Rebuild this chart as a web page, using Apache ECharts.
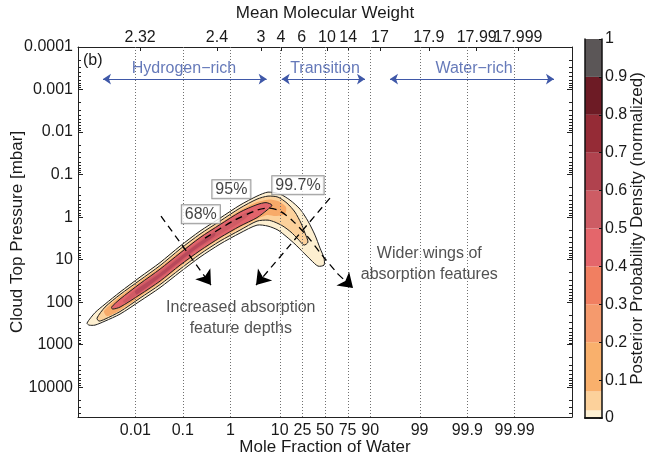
<!DOCTYPE html>
<html>
<head>
<meta charset="utf-8">
<script src="https://cdn.jsdelivr.net/npm/echarts@6/dist/echarts.min.js"></script>
<style>
html,body{margin:0;padding:0;background:#fff;}
#chart{width:645px;height:458px;}
</style>
</head>
<body>
<div id="chart"></div>
<script>
const FONT = '"Liberation Sans", Arial, Helvetica, sans-serif';

// Bottom axis: mole fraction of water (percent)
const waterTicks = [0.01, 0.1, 1, 10, 25, 50, 75, 90, 99, 99.9, 99.99];
const waterTickLabels = ['0.01', '0.1', '1', '10', '25', '50', '75', '90', '99', '99.9', '99.99'];

// Top axis: mean molecular weight, placed on the log-odds scale of water
const mmwLabels = ['2.32', '2.4', '3', '4', '6', '10', '14', '17', '17.9', '17.99', '17.999'];
const mmwPos = [-3.90, -2.28, -1.35, -0.93, -0.49, 0.04, 0.49, 1.16, 2.19, 3.20, 4.07];

// Left axis: cloud top pressure, log10(mbar)
const pressureTicks = [-4, -3, -2, -1, 0, 1, 2, 3, 4];
const pressureLabels = ['0.0001', '0.001', '0.01', '0.1', '1', '10', '100', '1000', '10000'];

// Colour bar levels and fills
const cbLevels = [0, 0.02, 0.07, 0.2, 0.3, 0.4, 0.5, 0.6, 0.7, 0.8, 0.9, 1];
const cbColors = ['#fdf0d3', '#fcd19b', '#f9b06c', '#f59a6d', '#f17f61', '#e4666b',
                  '#cd5c64', '#b0424e', '#952b36', '#6d1b25', '#5b5657'];
const cbTicks = [0, 0.1, 0.2, 0.3, 0.4, 0.5, 0.6, 0.7, 0.8, 0.9, 1];
const cbLabels = ['0', '0.1', '0.2', '0.3', '0.4', '0.5', '0.6', '0.7', '0.8', '0.9', '1'];

// Posterior contours: [log10 odds of water, log10 pressure (mbar)]
const contour997 = [
  [-5.020, 2.492], [-4.851, 2.246], [-4.640, 2.046], [-4.324, 1.763], [-3.902, 1.411],
  [-3.480, 1.070], [-3.058, 0.682], [-2.637, 0.329], [-2.215, 0.024], [-1.793, -0.282],
  [-1.434, -0.494], [-1.202, -0.588], [-0.949, -0.541], [-0.738, -0.400], [-0.527, -0.188],
  [-0.359, 0.094], [-0.211, 0.423], [-0.105, 0.729], [-0.021, 0.964], [-0.021, 1.129],
  [-0.148, 1.152], [-0.295, 1.011], [-0.464, 0.823], [-0.633, 0.635], [-0.802, 0.470],
  [-0.991, 0.306], [-1.202, 0.212], [-1.434, 0.188], [-1.793, 0.376], [-2.215, 0.635],
  [-2.637, 0.941], [-3.058, 1.293], [-3.480, 1.658], [-3.902, 1.975], [-4.324, 2.281],
  [-4.640, 2.445], [-4.851, 2.539], [-4.978, 2.539]
];
const contour95 = [
  [-4.809, 2.375], [-4.640, 2.116], [-4.324, 1.822], [-3.902, 1.481], [-3.480, 1.140],
  [-3.058, 0.752], [-2.637, 0.400], [-2.215, 0.094], [-1.793, -0.212], [-1.434, -0.423],
  [-1.202, -0.494], [-0.991, -0.470], [-0.802, -0.329], [-0.633, -0.118], [-0.506, 0.141],
  [-0.422, 0.376], [-0.359, 0.588], [-0.443, 0.658], [-0.569, 0.517], [-0.717, 0.353],
  [-0.886, 0.212], [-1.055, 0.118], [-1.202, 0.071], [-1.434, 0.094], [-1.793, 0.306],
  [-2.215, 0.564], [-2.637, 0.870], [-3.058, 1.223], [-3.480, 1.587], [-3.902, 1.905],
  [-4.324, 2.222], [-4.640, 2.398], [-4.767, 2.445]
];
const bandOrange = [
  [-4.661, 2.210], [-4.324, 1.869], [-3.902, 1.517], [-3.480, 1.187], [-3.058, 0.811],
  [-2.637, 0.459], [-2.215, 0.153], [-1.793, -0.153], [-1.434, -0.353], [-1.202, -0.411],
  [-0.991, -0.376], [-0.823, -0.235], [-0.844, -0.071], [-1.034, -0.024], [-1.223, -0.047],
  [-1.434, 0.047], [-1.793, 0.247], [-2.215, 0.506], [-2.637, 0.811], [-3.058, 1.164],
  [-3.480, 1.540], [-3.902, 1.869], [-4.324, 2.187], [-4.598, 2.328]
];
const contour68 = [
  [-4.502, 2.116], [-4.324, 1.928], [-3.902, 1.564], [-3.480, 1.223], [-3.058, 0.846],
  [-2.637, 0.482], [-2.215, 0.176], [-1.793, -0.118], [-1.434, -0.294], [-1.244, -0.341],
  [-1.118, -0.282], [-1.223, -0.165], [-1.434, 0.012], [-1.793, 0.212], [-2.215, 0.482],
  [-2.637, 0.788], [-3.058, 1.129], [-3.480, 1.505], [-3.902, 1.822], [-4.324, 2.116],
  [-4.481, 2.163]
];
const bandCore = [
  [-4.261, 1.975], [-3.902, 1.611], [-3.480, 1.281], [-3.058, 0.905], [-2.637, 0.553],
  [-2.215, 0.247], [-1.793, -0.035], [-1.519, -0.165], [-1.582, -0.059], [-1.793, 0.129],
  [-2.215, 0.411], [-2.637, 0.717], [-3.058, 1.070], [-3.480, 1.446], [-3.902, 1.775],
  [-4.219, 2.022]
];
const bandPeak = [
  [-4.008, 1.740], [-3.480, 1.317], [-3.058, 0.941], [-2.637, 0.588], [-2.320, 0.364],
  [-2.320, 0.435], [-2.637, 0.682], [-3.058, 1.035], [-3.480, 1.411], [-3.966, 1.822]
];

// Annotation arrows and labels (same units as the contours)
const ridgePath = [
  [-2.531, 0.494], [-1.941, 0.094], [-1.434, -0.165], [-1.202, -0.212], [-0.949, -0.141],
  [-0.675, 0.094], [-0.359, 0.470], [-0.063, 0.893], [0.274, 1.340]
];
const ridgeHead = [[0.274, 1.340], [0.591, 1.669]];
const depthArrows = [
  [[-3.459, -0.024], [-2.405, 1.599]],
  [[0.105, -0.447], [-1.455, 1.599]]
];
const regionArrows = [
  [[-4.683, -3.245], [-1.230, -3.245]],
  [[-0.913, -3.245], [0.844, -3.245]],
  [[1.371, -3.245], [4.830, -3.245]]
];
const regionLabels = [[-2.974, -3.496, 'Hydrogen\u2212rich'], [0.0, -3.496, 'Transition'], [3.143, -3.496, 'Water\u2212rich']];
const levelLabels = [[-2.619, -0.070, '68%'], [-1.975, -0.658, '95%'], [-0.570, -0.752, '99.7%']];
const noteLabels = [
  [-1.776, 2.375, 'Increased absorption\nfeature depths'],
  [2.200, 1.116, 'Wider wings of\nabsorption features']
];

const logit = p => Math.log10(p / (100 - p));
const nearest = (arr, v) => {
  let best = 0;
  arr.forEach((a, i) => { if (Math.abs(a - v) < Math.abs(arr[best] - v)) best = i; });
  return best;
};
const waterPos = waterTicks.map(logit);

const minorPressure = [];
for (let k = -4; k <= 4; k++) {
  for (let m = 2; m <= 9; m++) {
    const v = k + Math.log10(m);
    if (v < 4.7) minorPressure.push(v);
  }
}

const AX = '#222';
const TXT = '#1a1a1a';
const NAME_STYLE = { fontSize: 17, color: TXT, fontFamily: FONT };

function polygon(name, pts, fill, stroke, z) {
  return {
    type: 'custom', name, xAxisIndex: 0, yAxisIndex: 0, z, silent: true,
    data: [[0, 0]],
    renderItem: (params, api) => ({
      type: 'polygon',
      shape: { points: pts.map(p => api.coord(p)), smooth: 0.25 },
      style: { fill, stroke: stroke || 'none', lineWidth: stroke ? 1 : 0 }
    })
  };
}

function pressureAxis(position, major, labels) {
  return {
    gridIndex: 0, type: 'value', position, min: -4, max: 4.7, inverse: true,
    axisLine: { show: major, onZero: false, lineStyle: { color: AX, width: 1 } },
    axisTick: { show: true, inside: true, length: major ? 5 : 3,
                customValues: major ? pressureTicks : minorPressure,
                lineStyle: { color: AX, width: 1 } },
    axisLabel: labels ? {
      show: true, customValues: pressureTicks, margin: 5, fontSize: 16, color: TXT, fontFamily: FONT,
      showMinLabel: true, showMaxLabel: true, hideOverlap: false,
      formatter: v => pressureLabels[nearest(pressureTicks, v)]
    } : { show: false },
    splitLine: { show: false },
    name: labels ? 'Cloud Top Pressure [mbar]' : '',
    nameLocation: 'middle', nameGap: 52, nameRotate: 90, nameMoveOverlap: false,
    nameTextStyle: NAME_STYLE
  };
}

// top axis labels; the last one sits on its own axis so the two crowded
// labels at the right end are both kept
function mmwAxis(from, to, withLine) {
  const pos = mmwPos.slice(from, to);
  return {
    gridIndex: 0, type: 'value', position: 'top', min: -5.21, max: 5.21,
    axisLine: { show: withLine, onZero: false, lineStyle: { color: AX, width: 1 } },
    axisTick: { show: true, inside: true, length: 4, customValues: pos, lineStyle: { color: AX } },
    splitLine: { show: false },
    axisLabel: { customValues: pos, margin: 1, fontSize: 16, color: TXT, fontFamily: FONT,
                 showMinLabel: true, showMaxLabel: true, hideOverlap: false,
                 formatter: v => mmwLabels[nearest(mmwPos, v)] },
    name: withLine ? 'Mean Molecular Weight' : '', nameLocation: 'middle', nameGap: 25,
    nameMoveOverlap: false, nameTextStyle: NAME_STYLE
  };
}

const series = [
  {
    type: 'line', xAxisIndex: 0, yAxisIndex: 0, data: [], z: 1, silent: true,
    markLine: {
      silent: true, symbol: ['none', 'none'], label: { show: false },
      lineStyle: { type: [1, 2], color: '#707070', width: 1 },
      data: waterPos.map(v => ({ xAxis: v }))
    }
  },
  polygon('99.7%', contour997, '#fdefd0', '#1e1e1e', 2),
  polygon('95%', contour95, '#fcd19b', '#1e1e1e', 3),
  polygon('orange', bandOrange, '#f8aa69', null, 4),
  polygon('68%', contour68, '#e2646b', '#1e1e1e', 5),
  polygon('core', bandCore, '#cf5b64', null, 6),
  polygon('peak', bandPeak, '#b8485a', null, 7),
  {
    type: 'line', xAxisIndex: 0, yAxisIndex: 0, data: ridgePath, z: 10, silent: true,
    showSymbol: false, symbol: 'none', smooth: 0.3,
    lineStyle: { color: '#000', width: 1.3, type: [7, 5] }
  },
  {
    type: 'lines', coordinateSystem: 'cartesian2d', xAxisIndex: 0, yAxisIndex: 0, z: 10, silent: true,
    symbol: ['none', 'arrow'], symbolSize: 14,
    lineStyle: { color: '#000', width: 1.3, type: [7, 5], opacity: 1 },
    data: [{ coords: ridgeHead }].concat(depthArrows.map(c => ({ coords: c })))
  },
  {
    type: 'lines', coordinateSystem: 'cartesian2d', xAxisIndex: 0, yAxisIndex: 0, z: 10, silent: true,
    symbol: ['arrow', 'arrow'], symbolSize: 8,
    lineStyle: { color: '#3f58a8', width: 1, opacity: 1 },
    data: regionArrows.map(c => ({ coords: c }))
  },
  {
    type: 'scatter', xAxisIndex: 0, yAxisIndex: 0, z: 11, silent: true, symbolSize: 0,
    data: regionLabels,
    label: { show: true, position: 'inside', formatter: p => p.data[2],
             fontSize: 16, color: '#3f58a8', fontFamily: FONT }
  },
  {
    type: 'scatter', xAxisIndex: 0, yAxisIndex: 0, z: 12, silent: true, symbolSize: 0,
    data: levelLabels,
    label: { show: true, position: 'inside', formatter: p => p.data[2],
             fontSize: 16, color: '#111', fontFamily: FONT, backgroundColor: '#fff',
             borderColor: '#7a7a7a', borderWidth: 1, padding: [1, 3, 0, 3], lineHeight: 17 }
  },
  {
    type: 'scatter', xAxisIndex: 0, yAxisIndex: 0, z: 11, silent: true, symbolSize: 0,
    data: noteLabels,
    label: { show: true, position: 'inside', formatter: p => p.data[2], align: 'center',
             fontSize: 16, lineHeight: 21, color: '#262626', fontFamily: FONT }
  }
];

// colour bar segments, stacked from 0 to 1
cbColors.forEach((c, i) => {
  series.push({
    type: 'bar', xAxisIndex: 2, yAxisIndex: 4, stack: 'cb', barWidth: '100%', silent: true, z: 2,
    data: [cbLevels[i + 1] - cbLevels[i]], itemStyle: { color: c }
  });
});

const option = {
  animation: false,
  textStyle: { fontFamily: FONT },
  grid: [
    { left: 78, top: 47, width: 494, height: 370, outerBoundsMode: 'none', containLabel: false },
    { left: 585, top: 39, width: 17, height: 379, outerBoundsMode: 'none', containLabel: false }
  ],
  xAxis: [
    {
      gridIndex: 0, type: 'value', position: 'bottom', min: -5.21, max: 5.21,
      axisLine: { show: true, onZero: false, lineStyle: { color: AX, width: 1 } },
      axisTick: { show: false }, splitLine: { show: false },
      axisLabel: { customValues: waterPos, margin: 6, fontSize: 16, color: TXT, fontFamily: FONT,
                   showMinLabel: true, showMaxLabel: true, hideOverlap: false,
                   formatter: v => waterTickLabels[nearest(waterPos, v)] },
      name: 'Mole Fraction of Water', nameLocation: 'middle', nameGap: 22, nameMoveOverlap: false,
      nameTextStyle: NAME_STYLE
    },
    mmwAxis(0, mmwPos.length - 1, true),
    {
      gridIndex: 1, type: 'category', data: ['cb'], position: 'bottom', z: 5,
      axisLine: { show: true, lineStyle: { color: '#111', width: 1.5 } },
      axisTick: { show: false }, axisLabel: { show: false }
    },
    {
      gridIndex: 1, type: 'category', data: ['cb'], position: 'top', z: 5,
      axisLine: { show: true, lineStyle: { color: '#111', width: 1.5 } },
      axisTick: { show: false }, axisLabel: { show: false }
    },
    mmwAxis(mmwPos.length - 1, mmwPos.length, false)
  ],
  yAxis: [
    pressureAxis('left', true, true),
    pressureAxis('left', false, false),
    pressureAxis('right', true, false),
    pressureAxis('right', false, false),
    {
      gridIndex: 1, type: 'value', position: 'right', min: 0, max: 1, z: 5,
      axisLine: { show: true, onZero: false, lineStyle: { color: '#111', width: 1.5 } },
      axisTick: { show: true, inside: true, length: 3, customValues: cbTicks, lineStyle: { color: '#111' } },
      axisLabel: { customValues: cbTicks, margin: 3, fontSize: 16, color: TXT, fontFamily: FONT,
                   showMinLabel: true, showMaxLabel: true, hideOverlap: false,
                   formatter: v => cbLabels[nearest(cbTicks, v)] },
      splitLine: { show: false },
      name: 'Posterior Probability Density (normalized)', nameLocation: 'middle', nameGap: 27,
      nameRotate: 90, nameMoveOverlap: false,
      nameTextStyle: NAME_STYLE
    },
    {
      gridIndex: 1, type: 'value', position: 'left', min: 0, max: 1, z: 5,
      axisLine: { show: true, onZero: false, lineStyle: { color: '#111', width: 1.5 } },
      axisTick: { show: false }, axisLabel: { show: false }, splitLine: { show: false }
    }
  ],
  graphic: [
    { type: 'text', x: 83, y: 53, style: { text: '(b)', fontSize: 16, fill: TXT, fontFamily: FONT } }
  ],
  series
};

const chart = echarts.init(document.getElementById('chart'), null, { renderer: 'canvas' });
chart.setOption(option);
</script>
</body>
</html>
